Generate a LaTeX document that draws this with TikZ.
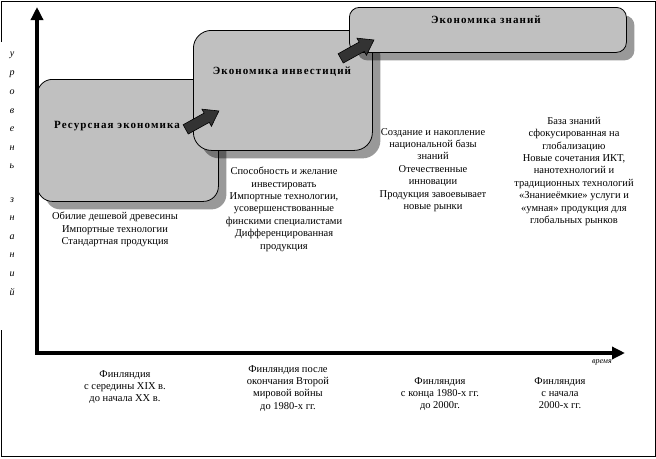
\documentclass[tikz,border=0pt]{standalone}
\usepackage{fontspec}
\setmainfont{Liberation Serif}
\newfontfamily\titlefont[LetterSpace=10]{Liberation Serif}
\usetikzlibrary{shapes.arrows, arrows.meta, positioning, shadows}
\definecolor{boxgray}{RGB}{192, 192, 192}
\definecolor{arrowdark}{RGB}{51, 51, 51}

\begin{document}
\begin{tikzpicture}[x=1pt, y=-1pt,
  stage/.style={draw, fill=boxgray, line width=0.8pt, inner sep=0pt, anchor=north west,
                drop shadow={shadow xshift=8pt, shadow yshift=-8pt, fill=black, opacity=0.4}},
  title/.style={font=\titlefont\fontsize{11}{13}\selectfont\bfseries, inner sep=0pt},
  note/.style={align=center, font=\fontsize{10.5}{12.4}\selectfont, inner sep=0pt, anchor=north},
  blockarrow/.style={single arrow, draw, fill=arrowdark, line width=0.6pt, inner sep=5pt,
                     minimum height=38pt, single arrow head extend=4.5pt, single arrow tip angle=70},
  axis/.style={line width=4pt, -{Triangle[length=13pt, width=12pt]}},
  vlet/.style={font=\fontsize{10}{10}\selectfont\itshape, inner sep=0pt},
]
\useasboundingbox (0,0) rectangle (656,458);

% Frame
\draw (1,42) -- (1,1) -- (655,1) -- (655,456) -- (1,456) -- (1,330);

% Stages
\node[stage, rounded corners=15pt, minimum width=181pt, minimum height=122pt] (res) at (37,79) {};
\node[stage, rounded corners=18pt, minimum width=179pt, minimum height=120pt] (inv) at (193,30) {};
\node[stage, rounded corners=10pt, minimum width=277pt, minimum height=45pt] (kno) at (349,7) {};

\node[title] (restitle) at (117,126) {Ресурсная экономика};
\node[title] (invtitle) at (282,72) {Экономика инвестиций};
\node[title] (knotitle) at (486,20) {Экономика знаний};

% Transitions
\node[blockarrow, rotate=29] (ar1) at (199,122) {};
\node[blockarrow, rotate=29] (ar2) at (354,51) {};

% Axes
\coordinate (origin) at (37,353);
\coordinate (ytop) at (37,7);
\coordinate (xend) at (625,353);
\draw[axis] (origin) -- (ytop);
\draw[axis] ([xshift=-2pt]origin) -- (xend);
\node[vlet, anchor=east, font=\fontsize{8}{8}\selectfont\itshape] (time) at (612,362) {время};

% Vertical label
\foreach \ch/\yy in {у/55, р/74, о/92, в/111, е/129, н/148, ь/166,
                     з/200, н/218, а/237, н/255, и/274, й/292}
  \node[vlet] (let\yy) at (12,\yy) {\ch};

% Features
\node[note] (resnote) at (115,212) {Обилие дешевой древесины\\Импортные технологии\\Стандартная продукция};
\node[note] (invnote) at (284,167) {Способность и желание\\инвестировать\\Импортные технологии,\\усовершенствованные\\финскими специалистами\\Дифференцированная\\продукция};
\node[note] (knonote) at (433,128) {Создание и накопление\\национальной базы\\знаний\\Отечественные\\инновации\\Продукция завоевывает\\новые рынки};
\node[note] (glonote) at (574,117) {База знаний\\сфокусированная на\\глобализацию\\Новые сочетания ИКТ,\\нанотехнологий и\\традиционных технологий\\«Знаниеёмкие» услуги и\\«умная» продукция для\\глобальных рынков};

% Periods
\node[note] (per1) at (125,370) {Финляндия\\с середины XIX в.\\до начала XX в.};
\node[note] (per2) at (288,365) {Финляндия после\\окончания Второй\\мировой войны\\до 1980-х гг.};
\node[note] (per3) at (440,377) {Финляндия\\с конца 1980-х гг.\\до 2000г.};
\node[note] (per4) at (560,377) {Финляндия\\с начала\\2000-х гг.};
\end{tikzpicture}
\end{document}
